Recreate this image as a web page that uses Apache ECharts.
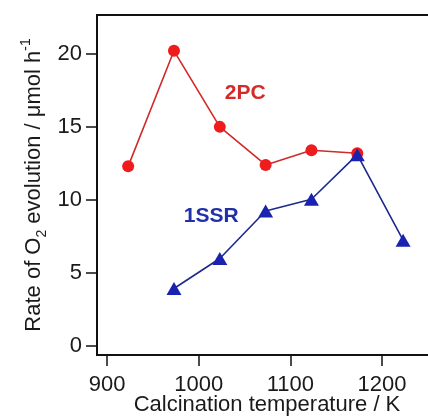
<!DOCTYPE html>
<html>
<head>
<meta charset="utf-8">
<script src="https://cdn.jsdelivr.net/npm/echarts@6/dist/echarts.min.js"></script>
<style>
  html, body { margin: 0; padding: 0; background: #fff; }
  #chart { width: 428px; height: 419px; }
</style>
</head>
<body>
<div id="chart"></div>
<script>
// calcination temperatures (K)
const temps2PC = [923, 973, 1023, 1073, 1123, 1173];
const rate2PC = [12.3, 20.2, 15.0, 12.4, 13.4, 13.2];

const temps1SSR = [973, 1023, 1073, 1123, 1173, 1223];
const rate1SSR = [3.95, 6.0, 9.25, 10.05, 13.1, 7.25];

const xTicks = [900, 1000, 1100, 1200];
const yTicks = [0, 5, 10, 15, 20];

const font = 'Liberation Sans, Arial, sans-serif';
const chart = echarts.init(document.getElementById('chart'));

const pairs = (xs, ys) => xs.map((x, i) => [x, ys[i]]);

const option = {
    animation: false,
    grid: {
        left: 97, top: 15, right: -9, bottom: 64,
        outerBoundsMode: 'none',
        containLabel: false,
        show: true, borderColor: '#111', borderWidth: 2
    },
    xAxis: {
        type: 'value',
        min: 889, max: 1260,
        name: 'Calcination temperature / K',
        nameLocation: 'middle',
        nameGap: 39,
        nameMoveOverlap: false,
        nameTextStyle: { fontSize: 22, color: '#1a1a1a', fontFamily: font },
        axisLine: { show: true, onZero: false, lineStyle: { color: '#111', width: 2 } },
        axisTick: { show: true, inside: false, length: 11, customValues: xTicks, lineStyle: { color: '#111', width: 1.5 } },
        axisLabel: {
            customValues: xTicks, fontSize: 22, color: '#1a1a1a', fontFamily: font, margin: 19,
            formatter: (v) => String(v)
        },
        splitLine: { show: false }
    },
    yAxis: {
        type: 'value',
        min: -0.6, max: 22.65,
        name: 'Rate of O{sub|2} evolution / μmol h{sup|-1}',
        nameLocation: 'middle',
        nameGap: 48,
        nameRotate: 90,
        nameMoveOverlap: false,
        nameTextStyle: {
            fontSize: 22, color: '#1a1a1a', fontFamily: font, lineHeight: 30,
            rich: {
                sub: { fontSize: 14, fontFamily: font, color: '#1a1a1a', verticalAlign: 'bottom', lineHeight: 14 },
                sup: { fontSize: 14, fontFamily: font, color: '#1a1a1a', verticalAlign: 'top', lineHeight: 14 }
            }
        },
        axisLine: { show: true, onZero: false, lineStyle: { color: '#111', width: 2 } },
        axisTick: { show: true, inside: false, length: 11, customValues: yTicks, lineStyle: { color: '#111', width: 1.5 } },
        axisLabel: {
            customValues: yTicks, fontSize: 22, color: '#1a1a1a', fontFamily: font, margin: 15,
            formatter: (v) => String(v)
        },
        splitLine: { show: false }
    },
    series: [
        {
            name: '2PC',
            type: 'line',
            data: pairs(temps2PC, rate2PC),
            symbol: 'circle',
            symbolSize: 12,
            lineStyle: { color: '#d02a2a', width: 1.6 },
            itemStyle: { color: '#ee1c1c' },
            z: 2,
            markPoint: {
                symbol: 'circle', symbolSize: 0,
                data: [{ coord: [1050.8, 17.3] }],
                label: { show: true, formatter: '2PC', fontSize: 21, fontWeight: 'bold', color: '#d42a2a', fontFamily: font }
            }
        },
        {
            name: '1SSR',
            type: 'line',
            data: pairs(temps1SSR, rate1SSR),
            symbol: 'triangle',
            symbolSize: [15, 13],
            lineStyle: { color: '#1c2a8c', width: 1.6 },
            itemStyle: { color: '#1a22b0' },
            z: 3,
            markPoint: {
                symbol: 'circle', symbolSize: 0,
                data: [{ coord: [1013.7, 8.86] }],
                label: { show: true, formatter: '1SSR', fontSize: 21, fontWeight: 'bold', color: '#2030a8', fontFamily: font }
            }
        }
    ]
};

chart.setOption(option);
</script>
</body>
</html>
